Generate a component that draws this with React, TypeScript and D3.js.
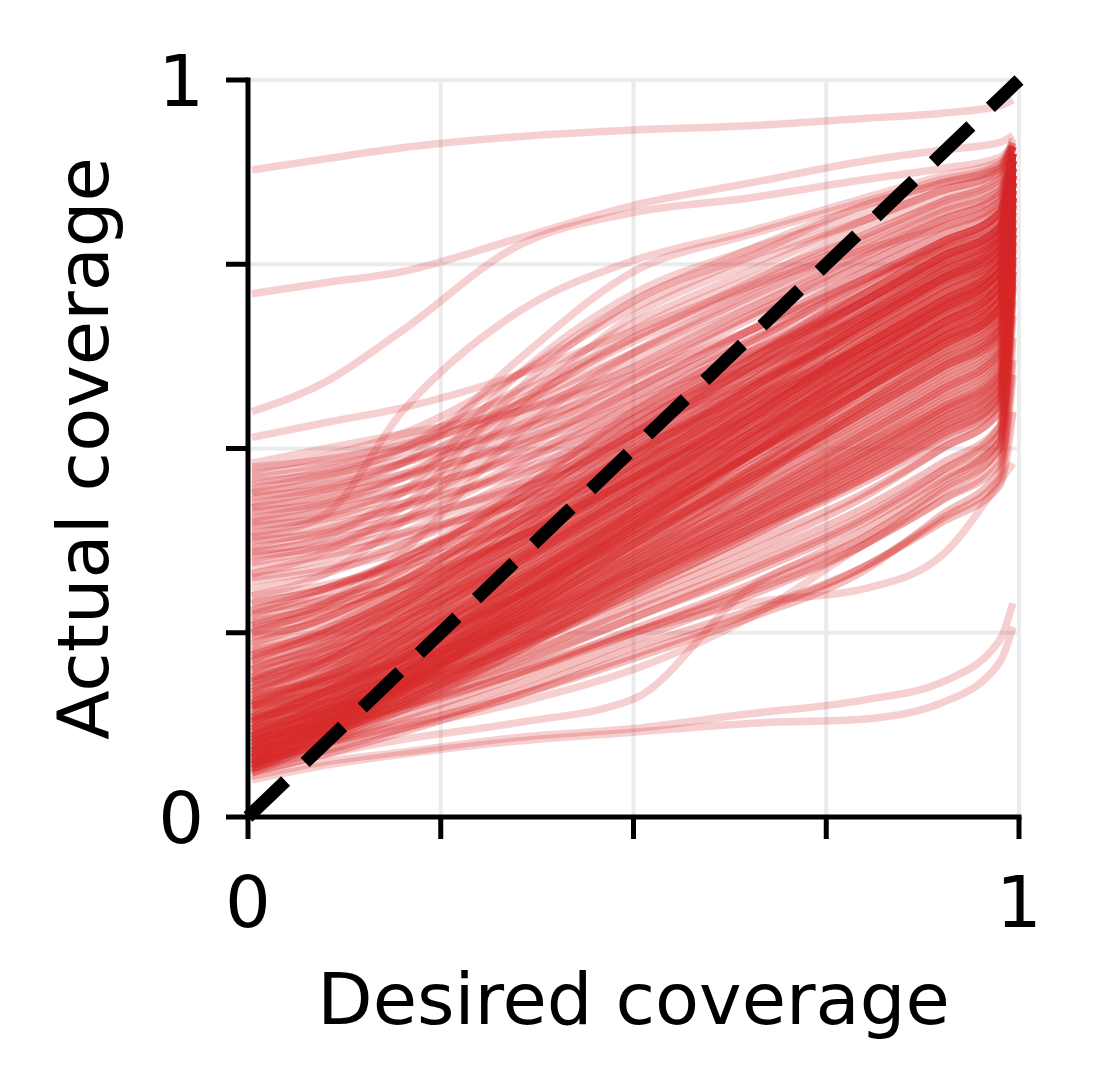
import React from "react";
import * as d3 from "d3";

// desired-coverage positions at which each curve is sampled
const desiredCoverage = [0.005, 0.1, 0.2, 0.35, 0.5, 0.65, 0.8, 0.9, 0.975, 0.992];

// actual coverage (percent) per curve
const upperOutliers = [
  [87.8, 89.3, 90.8, 92.3, 93.2, 93.8, 94.8, 95.5, 96.5, 97.3],
  [71, 72.5, 74, 78.5, 83, 86, 89, 90.5, 91.5, 92.5],
  [55, 59, 66, 77.5, 82, 84, 86.5, 88, 89.5, 91],
  [51.5, 53.5, 55.5, 60, 66, 72, 77, 80, 83, 86],
  [48, 50, 52, 55, 60, 66, 73, 77, 80, 84],
];

const sCurves = [
  [38, 41, 55, 68.5, 75.5, 79.5, 84, 87, 89, 91.5],
  [33, 36, 42, 58, 70, 76, 81, 85, 88, 91],
  [40, 42, 46, 56, 68, 75, 81, 85, 87.5, 91],
  [36, 38, 44, 60, 71, 77, 82, 86, 88.5, 91],
  [42, 44, 48, 62, 74, 79, 83.5, 86.5, 88.5, 91],
  [30, 33, 40, 55, 66, 73, 79, 83.5, 86.5, 90],
  [44, 46, 50, 60, 70, 77, 83, 86, 88, 91.5],
  [26, 29, 36, 52, 63, 71, 78, 82.5, 85.5, 90],
];

const upperBundle = [
  [47, 49, 52, 60, 69, 76, 83, 86, 88, 92],
  [46, 47.5, 50, 56, 63, 70, 77, 82, 85, 90],
  [45, 47, 50, 58, 67, 74, 81, 85, 87.5, 91.5],
  [44, 45.5, 48, 53, 59, 66, 73, 78, 82, 89],
  [43, 45, 48, 56, 65, 72, 79, 83.5, 86.5, 91],
  [42, 43.5, 46, 51, 57, 63, 70, 75, 79, 88],
  [41, 43, 46.5, 54, 62, 69, 76, 81, 84.5, 90],
  [40, 41.5, 44, 49, 55, 61, 68, 73, 77, 87],
  [39, 41, 44.5, 52, 60, 68, 75, 80, 83.5, 90],
  [38, 39.5, 42, 47, 53, 59, 66, 72, 76, 86],
  [37, 39, 42.5, 50, 58, 66, 74, 79, 83, 90],
  [36, 37.5, 40, 45, 51, 57, 64, 70, 75, 86],
  [35, 37, 40.5, 48, 57, 65, 73, 78, 82, 89],
  [34, 35.5, 38, 43, 49, 56, 63, 69, 74, 85],
  [33, 35, 38.5, 46, 55, 63, 71, 77, 81, 89],
  [32, 33.5, 36, 41, 47, 54, 62, 68, 73, 85],
  [31, 33, 37, 45, 54, 62, 70, 76, 80, 88],
  [30, 31.5, 34, 39.5, 46, 53, 61, 67, 72, 84],
  [29, 31, 35, 43, 52, 61, 69, 75, 79, 88],
  [28, 29.5, 32, 38, 45, 52, 60, 66, 71, 84],
];

const upperBundle2 = [
  [47.5, 48.5, 50.5, 55, 61, 68, 76, 81, 84.5, 90],
  [46.5, 48, 51, 57.5, 65, 72.5, 80, 84, 87, 91],
  [45.5, 46.5, 48.5, 52.5, 58, 64.5, 72, 77.5, 81.5, 89],
  [44.5, 46.5, 49.5, 56.5, 64.5, 71.5, 78.5, 83, 86, 91],
  [43.5, 44.5, 46.5, 50.5, 56, 62.5, 70, 76, 80, 88],
  [42.5, 44.5, 48, 55, 63, 70.5, 77.5, 82, 85, 90],
  [41.5, 42.5, 44.5, 48.5, 54, 60.5, 68, 74, 78.5, 88],
  [40.5, 42.5, 46, 53, 61, 69, 76.5, 81, 84, 90],
  [39.5, 40.5, 42.5, 46.5, 52, 58.5, 66, 72, 77, 87],
  [38.5, 40.5, 44, 51, 59.5, 67.5, 75, 80, 83.5, 90],
  [37.5, 38.5, 40.5, 44.5, 50, 56.5, 64, 70, 75, 86],
  [36.5, 38.5, 42, 49.5, 58, 66, 74, 79, 82.5, 89],
  [35.5, 36.5, 38.5, 42.5, 48, 55, 63, 69, 74, 86],
  [34.5, 36.5, 40, 47.5, 56, 64.5, 72.5, 78, 82, 89],
  [32.5, 34, 37, 44, 52, 60, 68, 74, 79, 88],
];

const coreBundle = [
  [28, 31, 35, 43, 52, 61, 70, 76, 80, 89],
  [27, 29.5, 33, 40, 48, 56, 65, 71, 76, 87],
  [26, 29, 34, 44, 55, 64, 73, 78, 82, 90],
  [25, 27.5, 31, 38, 46, 54, 63, 69, 74, 86],
  [24, 27, 32, 42, 53, 62, 71, 77, 81, 90],
  [23, 25.5, 29, 36, 44, 52, 61, 67, 72, 85],
  [22, 25.5, 31, 41, 52, 62, 72, 78, 82, 91],
  [21, 24, 28, 35, 43, 51, 60, 66, 71, 85],
  [20, 24, 30, 40, 51, 61, 71, 77, 81, 90],
  [19.5, 22.5, 26.5, 34, 42, 50, 59, 65, 70, 84],
  [19, 23, 29, 39, 50, 60, 70, 76, 80, 89],
  [18, 21, 25, 32.5, 41, 49, 58, 64, 69, 83],
  [17.5, 21.5, 28, 38, 49, 59, 69, 75, 79, 89],
  [17, 20, 24, 31, 39, 47, 56, 62, 67, 82],
  [16.5, 21, 27, 37, 48, 58, 68, 74, 78, 88],
  [16, 19, 23, 30, 38, 46, 55, 61, 66, 81],
  [15.5, 20, 26, 36, 47, 57, 67, 73, 77, 88],
  [15, 18.5, 22.5, 30, 38, 46, 54, 60, 65, 80],
  [14.5, 19, 25, 35, 46, 56, 66, 72, 76, 87],
  [14, 17.5, 21.5, 29, 37, 45, 53, 59, 64, 79],
  [13.5, 18, 24, 34, 45, 55, 65, 71, 75, 87],
  [13, 17, 21, 28, 36, 44, 52, 58, 63, 78],
  [12.5, 17, 23, 33, 44, 54, 64, 70, 74, 86],
  [12, 16, 20, 27.5, 35.5, 43, 51, 57, 62, 77],
  [11.5, 16, 22, 32, 43, 53, 63, 69, 73, 85],
  [11, 15, 19.5, 27, 35, 42.5, 50.5, 56, 61, 76],
  [11, 15.5, 21.5, 31.5, 42, 52, 62, 68, 72, 84],
  [10.5, 14.5, 19, 26.5, 34.5, 42, 50, 55.5, 60, 75],
  [10, 14.5, 21, 31, 41.5, 51.5, 61, 67, 71, 84],
  [10, 14, 18.5, 26, 34, 41.5, 49.5, 55, 59.5, 74],
  [9.5, 14, 20, 30, 41, 51, 60, 66, 70, 83],
  [9.5, 13.5, 18, 25.5, 33.5, 41, 49, 54.5, 59, 73],
  [9, 13.5, 19.5, 29.5, 40, 50, 59.5, 65, 69, 82],
  [9, 13, 17.5, 25, 33, 40.5, 48.5, 54, 58.5, 74],
  [8.5, 13, 19, 29, 39.5, 49, 58.5, 64.5, 68.5, 81],
  [8.5, 12.5, 17, 24.5, 32.5, 40, 48, 53.5, 58, 76],
  [8, 12.5, 18.5, 28.5, 39, 48.5, 58, 64, 68, 80],
  [8, 12, 16.5, 24, 32, 39.5, 47.5, 53, 57.5, 77],
  [7.5, 12, 18, 28, 38, 47.5, 57, 63, 67, 79],
  [7.5, 11.5, 16, 23.5, 31.5, 39, 47, 52.5, 57, 78],
  [7, 11.5, 17.5, 27, 37, 46.5, 56, 62, 66, 80],
  [7, 11, 15.5, 23, 31, 38.5, 46.5, 52, 56.5, 76],
  [6.5, 11, 17, 26.5, 36, 45.5, 55, 61, 65, 79],
  [6.5, 10.5, 15, 22.5, 30.5, 38, 46, 51.5, 56, 74],
  [25.5, 28, 32, 40, 49, 58, 67, 73, 78, 89],
  [22.5, 25, 29, 37, 46, 55, 64, 70, 75, 87],
  [18.5, 21.5, 26, 34.5, 44, 53, 62, 68, 73, 86],
  [13.8, 17, 21.5, 30, 40, 49, 58, 64, 69, 84],
  [10.2, 13.5, 18, 27, 37, 46, 55, 61, 66, 81],
  [7.8, 11, 15.5, 24, 34, 43, 52, 58, 63, 79],
];

const coreBundle2 = [
  [29, 31, 34.5, 41, 49.5, 58, 67, 73, 77, 88],
  [27.5, 30.5, 35, 44, 54, 63, 71, 76, 80, 89],
  [26.5, 28.5, 31.5, 38, 46, 55, 64, 70, 75, 87],
  [25, 28.5, 33.5, 43, 53, 62, 70, 76, 80, 90],
  [24.5, 26.5, 30, 37, 45.5, 54.5, 63.5, 69.5, 74, 86],
  [23.5, 27, 32, 41.5, 51.5, 61, 70, 75.5, 79.5, 89],
  [22, 24.5, 28, 35.5, 44.5, 53.5, 62.5, 68.5, 73, 86],
  [21.5, 25, 30, 40, 50.5, 60, 69, 75, 79, 89],
  [20.5, 23, 27, 34.5, 43, 52, 61, 67, 72, 85],
  [20, 23.5, 29, 39, 49.5, 59, 68.5, 74.5, 78.5, 88],
  [19, 21.5, 25.5, 33, 41.5, 50.5, 60, 66, 71, 84],
  [18.5, 22.5, 28.5, 38.5, 49, 58.5, 68, 74, 78, 88],
  [17.5, 20.5, 24.5, 32, 40.5, 49.5, 59, 65, 70, 84],
  [17, 21, 27, 37.5, 48, 58, 67.5, 73.5, 77.5, 88],
  [16, 19, 23.5, 31.5, 40, 49, 58, 64, 69, 83],
  [15.5, 19.5, 26, 36.5, 47.5, 57.5, 67, 73, 77, 87],
  [15, 18, 22.5, 30.5, 39.5, 48.5, 57.5, 63.5, 68.5, 83],
  [14.5, 18.5, 25, 35.5, 46.5, 56.5, 66.5, 72.5, 76.5, 87],
  [13.5, 17, 21.5, 29.5, 38.5, 47.5, 56.5, 62.5, 67.5, 82],
  [13, 17.5, 24, 34.5, 45.5, 56, 66, 72, 76, 87],
  [12.5, 16, 20.5, 28.5, 37.5, 46.5, 55.5, 61.5, 66.5, 81],
  [12, 16.5, 23, 33.5, 44.5, 55, 65, 71, 75, 86],
  [11.5, 15, 19.5, 27.5, 36.5, 45.5, 54.5, 60.5, 65.5, 80],
  [11, 15.5, 22, 32.5, 43.5, 54, 64, 70, 74, 86],
  [10.5, 14, 18.5, 26.5, 35.5, 44.5, 53.5, 59.5, 64.5, 80],
  [10, 14.5, 21, 31.5, 42.5, 53, 63, 69, 73, 85],
  [9.5, 13, 17.5, 25.5, 34.5, 43.5, 52.5, 58.5, 63.5, 79],
  [9, 13.5, 20, 30.5, 41.5, 52, 62, 68, 72, 85],
  [8.5, 12, 16.5, 24.5, 33.5, 42.5, 51.5, 57.5, 62.5, 78],
  [8, 12.5, 19, 29.5, 40.5, 51, 61, 67, 71, 84],
  [7.5, 11, 15.5, 23.5, 32.5, 41.5, 50.5, 56.5, 61.5, 78],
  [7, 11.5, 18, 28.5, 39.5, 50, 60, 66, 70, 84],
  [6.5, 10, 14.5, 22.5, 31.5, 40.5, 49.5, 55.5, 60.5, 77],
  [6, 10.5, 17, 27.5, 38.5, 49, 59, 65, 69, 83],
  [8.2, 12.5, 18, 26, 35, 45, 56, 63, 68, 84],
  [10.8, 15, 20, 28, 37, 47, 58, 65, 70, 86],
  [12.8, 17, 22, 30, 39, 49, 60, 67, 72, 87],
  [15.2, 19, 24, 32, 41, 51, 62, 69, 74, 88],
  [18.2, 22, 27, 35, 44, 54, 64.5, 71, 76, 89],
  [21.2, 25, 30, 38, 47, 57, 67, 73, 78, 90],
];

const lowerBundle = [
  [6.5, 9, 12, 17, 23, 28, 34, 40, 45, 55],
  [7, 10, 13.5, 19, 25, 30.5, 37, 43, 48, 62],
  [8, 11, 14.5, 20.5, 27, 33, 40, 46, 51, 70],
  [9, 12, 15.5, 21.5, 28.5, 35, 42, 48, 53, 75],
  [10, 13, 16.5, 23, 30, 37, 44, 50, 55, 78],
  [11, 14, 17.5, 24, 31.5, 39, 46, 52, 57, 80],
  [12, 14.5, 17, 22, 28, 34, 41, 47, 52, 74],
  [7.5, 10, 12.5, 16.5, 21.5, 27, 33.5, 41, 47, 65],
  [13, 16, 19, 25, 32, 39, 47, 53, 58, 82],
  [9.5, 12.5, 15, 19.5, 25, 31, 38, 44.5, 50, 72],
  [6, 8.5, 11.5, 16.5, 22, 27.5, 34, 40.5, 46, 60],
  [7.2, 10, 13, 18, 24, 30, 37, 44, 50, 68],
  [8.8, 11.5, 14.5, 19.5, 25.5, 31.5, 39, 45.5, 51, 73],
  [10.5, 13, 16, 21, 27, 33.5, 40.5, 47, 53, 76],
  [11.8, 14.5, 17.5, 23, 29.5, 36, 43.5, 50, 55, 79],
  [13.5, 15.5, 18, 23.5, 30.5, 38, 45.5, 51, 56, 80],
  [15, 17, 20, 26, 33, 40, 48, 54, 59, 83],
  [16.5, 18.5, 21, 26.5, 33.5, 41, 49, 55, 60, 84],
];

const lowerOutliers = [
  [5, 7, 8.5, 10.3, 11.5, 12.7, 13.3, 15.5, 21, 25.8],
  [5.5, 7.5, 8.8, 10.8, 12, 14, 15.9, 18.3, 24, 29],
  [9, 12, 15, 20, 25, 29, 31, 35.5, 45.5, 48],
  [6, 8.5, 10.5, 12.8, 16, 31, 38, 45, 52, 72],
  [7, 9.5, 12, 15.5, 20, 27, 37, 43, 49, 72],
];

const axisTicks = [0, 0.25, 0.5, 0.75, 1];
const tickLabels = ["0", "", "", "", "1"];
const xTitle = "Desired coverage";
const yTitle = "Actual coverage";

export default function App() {
  const x = d3.scaleLinear().domain([0, 1]).range([248, 1019]);
  const y = d3.scaleLinear().domain([0, 1]).range([817, 80]);

  const curveLine = d3
    .line<number>()
    .x((_, i) => x(desiredCoverage[i]))
    .y((v) => y(v / 100))
    .curve(d3.curveMonotoneX);

  const diag = d3
    .line<number>()
    .x((t) => x(t))
    .y((t) => y(t));

  const upper = [...upperBundle, ...upperBundle2];
  const core = [...lowerBundle, ...coreBundle, ...coreBundle2];
  const singles = [...sCurves, ...upperOutliers, ...lowerOutliers];

  const tickLen = 22;
  const font = "DejaVu Sans";

  return (
    <div style={{ position: "absolute", left: 0, top: 0 }}>
      <svg width={1095} height={1091} style={{ display: "block", background: "#fff" }} fontFamily={font}>
        <g>
          {axisTicks.map((t) => (
            <line key={"gx" + t} x1={x(t)} x2={x(t)} y1={y(0)} y2={y(1)} stroke="#ebebeb" strokeWidth={4} />
          ))}
          {axisTicks.map((t) => (
            <line key={"gy" + t} x1={x(0)} x2={x(1)} y1={y(t)} y2={y(t)} stroke="#ebebeb" strokeWidth={4} />
          ))}
        </g>
        <g fill="none" stroke="#d62728" strokeWidth={7.5} strokeLinejoin="round">
          {core.map((c, i) => (
            <path key={"c" + i} d={curveLine(c) || ""} strokeOpacity={0.3} />
          ))}
          {upper.map((c, i) => (
            <path key={"u" + i} d={curveLine(c) || ""} strokeOpacity={0.24} />
          ))}
          {singles.map((c, i) => (
            <path key={"s" + i} d={curveLine(c) || ""} strokeOpacity={0.22} />
          ))}
        </g>
        <path d={diag([0, 1]) || ""} fill="none" stroke="#000" strokeWidth={13} strokeDasharray="52 27" />
        <g stroke="#000" strokeWidth={5}>
          <line x1={x(0)} x2={x(0)} y1={y(0) + 2.5} y2={y(1) - 2.5} />
          <line x1={x(0) - 2.5} x2={x(1) + 2.5} y1={y(0)} y2={y(0)} />
          {axisTicks.map((t) => (
            <line key={"tx" + t} x1={x(t)} x2={x(t)} y1={y(0)} y2={y(0) + tickLen} />
          ))}
          {axisTicks.map((t) => (
            <line key={"ty" + t} x1={x(0) - tickLen} x2={x(0)} y1={y(t)} y2={y(t)} />
          ))}
        </g>
        <g fontSize={72} fill="#000">
          {axisTicks.map((t, i) => (
            <text key={"lx" + t} x={x(t)} y={927} textAnchor="middle">
              {tickLabels[i]}
            </text>
          ))}
          {axisTicks.map((t, i) => (
            <text key={"ly" + t} x={x(0) - tickLen - 22} y={y(t) + 26} textAnchor="end">
              {tickLabels[i]}
            </text>
          ))}
          <text x={(x(0) + x(1)) / 2} y={1024} textAnchor="middle">
            {xTitle}
          </text>
          <text transform={`translate(108, ${(y(0) + y(1)) / 2}) rotate(-90)`} textAnchor="middle">
            {yTitle}
          </text>
        </g>
      </svg>
    </div>
  );
}
